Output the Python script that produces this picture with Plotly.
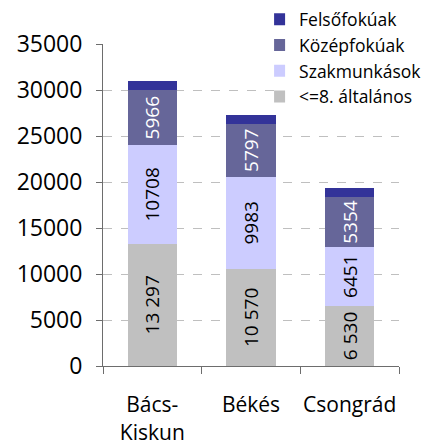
import plotly.graph_objects as go

categories = ["Bács-<br>Kiskun", "Békés", "Csongrád"]
series_names = ["<=8. általános", "Szakmunkások", "Középfokúak", "Felsőfokúak"]
alapfok = [13297, 10570, 6530]
szakmunkas = [10708, 9983, 6451]
kozepfok = [5966, 5797, 5354]
felsofok = [960, 930, 1010]
colors = ["#C0C0C0", "#CCCCFF", "#666699", "#333399"]
y_ticks = [0, 5000, 10000, 15000, 20000, 25000, 30000, 35000]

def space_fmt(v):
    return f"{v:,}".replace(",", " ")

series_values = [alapfok, szakmunkas, kozepfok, felsofok]
series_text = [
    [space_fmt(v) for v in alapfok],
    [str(v) for v in szakmunkas],
    [str(v) for v in kozepfok],
    None,
]
text_colors = ["#000000", "#000000", "#FFFFFF", "#FFFFFF"]

FONT = "Open Sans"
fig = go.Figure()
for name, vals, txt, col, tcol in zip(series_names, series_values, series_text, colors, text_colors):
    fig.add_trace(go.Bar(
        x=categories, y=vals, name=name,
        marker=dict(color=col, line=dict(width=0)),
        text=txt, texttemplate="%{text}" if txt else None,
        textposition="inside" if txt else "none",
        textangle=-90, insidetextanchor="middle",
        constraintext="none",
        textfont=dict(family=FONT, size=19, color=tcol),
        hoverinfo="skip",
    ))

fig.update_layout(
    barmode="stack", bargap=0.5,
    width=422, height=440,
    margin=dict(l=95, r=31, t=36, b=82, autoexpand=False),
    plot_bgcolor="white", paper_bgcolor="white",
    font=dict(family=FONT, size=20, color="#000000"),
    legend=dict(
        traceorder="reversed",
        x=0.578, y=1.132, xanchor="left", yanchor="top",
        bgcolor="white", font=dict(family=FONT, size=17.5),
        tracegroupgap=0, itemwidth=30, indentation=-15,
    ),
    showlegend=True,
)
fig.update_yaxes(
    range=[0, 35000], tickvals=y_ticks, ticktext=[str(v) for v in y_ticks],
    showline=True, linecolor="#6d6d6d", linewidth=1,
    ticks="outside", ticklen=6, tickcolor="#6d6d6d",
    showgrid=True, gridcolor="#BFBFBF", griddash="dash", gridwidth=1,
    zeroline=False, tickfont=dict(family=FONT, size=23),
    ticklabelstandoff=9,
)
fig.update_xaxes(
    showline=True, linecolor="#6d6d6d", linewidth=1,
    ticks="outside", ticklen=7, tickcolor="#6d6d6d", tickson="boundaries",
    showgrid=False, tickfont=dict(family=FONT, size=21), tickangle=0,
    ticklabelstandoff=20,
)
fig.write_html("out.html")
